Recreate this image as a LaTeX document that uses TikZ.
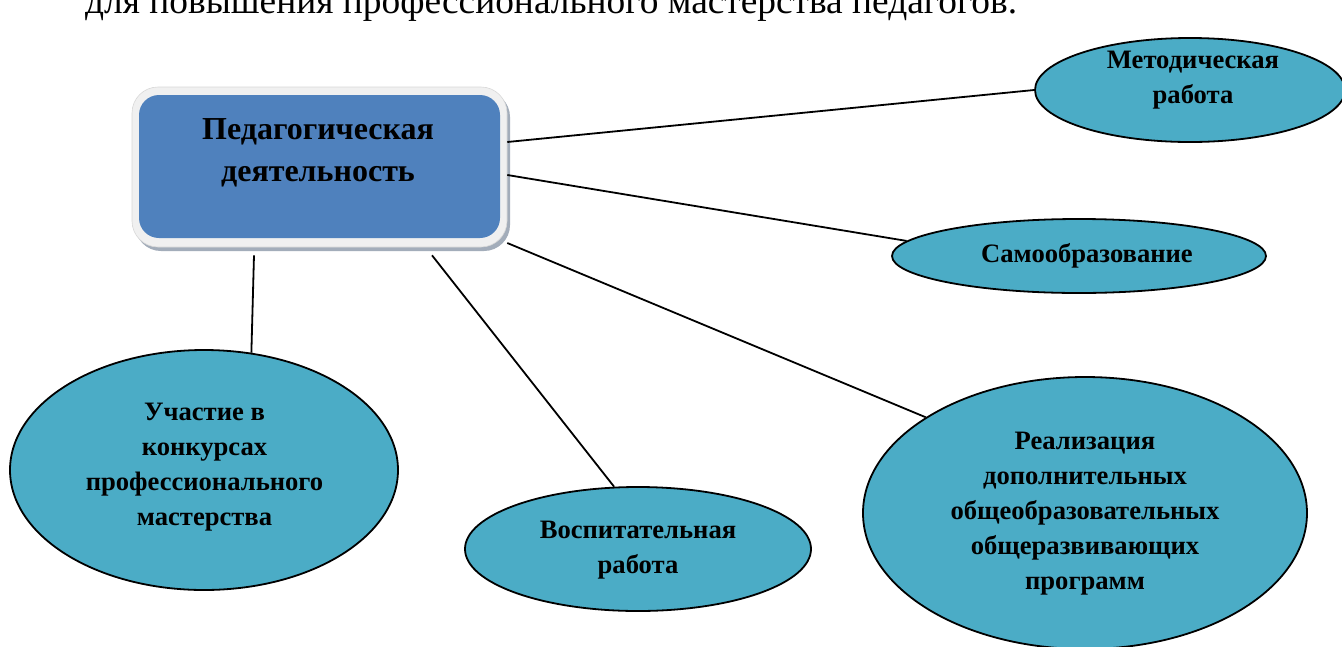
\documentclass[tikz,border=0pt]{standalone}
\usepackage{fontspec}
\setmainfont{Liberation Serif}
\usetikzlibrary{shapes.geometric,shadows}
\definecolor{boxblue}{HTML}{4F81BD}
\definecolor{aqua}{HTML}{4BACC6}
\definecolor{ring}{HTML}{F0F0F0}
\definecolor{ringedge}{HTML}{D8D8D8}
\definecolor{shade}{HTML}{A3ADBA}
\begin{document}
\begin{tikzpicture}[x=1pt,y=-1pt,
  ell/.style={ellipse, draw=black, line width=1.8pt, fill=aqua, inner sep=0pt},
  lbl/.style={align=center, font=\fontsize{26.6}{35}\selectfont\bfseries, inner sep=0pt},
  conn/.style={line width=1.8pt, draw=black},
  ringbox/.style={rectangle, rounded corners=26pt, fill=ring, draw=ringedge, line width=0.6pt,
    general shadow={fill=shade, shadow xshift=3pt, shadow yshift=-4pt}},
  bluebox/.style={rectangle, rounded corners=20pt, fill=boxblue, inner sep=0pt}]
\clip (0,0) rectangle (1342,646);
\useasboundingbox (0,0) rectangle (1342,646);
\fill[white] (0,0) rectangle (1342,646);

\node[anchor=base west, inner sep=0pt, font=\fontsize{37.4}{40}\selectfont] (title) at (85,13)
  {для повышения профессионального мастерства педагогов.};

% central block
\node[ringbox, minimum width=375pt, minimum height=160pt] (main) at (319.5,167) {};
\node[bluebox, minimum width=361pt, minimum height=143pt] (inner) at (319.5,166.5) {};
\node[align=center, inner sep=0pt, font=\fontsize{32}{42}\selectfont\bfseries] (maint) at (318,153)
  {Педагогическая\\деятельность};

% ellipses
\node[ell, minimum width=310pt, minimum height=104pt] (met) at (1190,90) {};
\node[lbl] (mett) at (1193,80) {Методическая\\работа};

\node[ell, minimum width=374pt, minimum height=74pt] (self) at (1079,256) {};
\node[lbl] (selft) at (1087,256) {Самообразование};

\node[ell, minimum width=444pt, minimum height=272pt] (real) at (1085,513) {};
\node[lbl] (realt) at (1085,514) {Реализация\\дополнительных\\общеобразовательных\\общеразвивающих\\программ};

\node[ell, minimum width=346pt, minimum height=124pt] (vosp) at (638,549) {};
\node[lbl] (vospt) at (638,550.5) {Воспитательная\\работа};

\node[ell, minimum width=388pt, minimum height=240pt] (uch) at (204,470) {};
\node[lbl] (ucht) at (204.5,467.5) {Участие в\\конкурсах\\профессионального\\мастерства};

% connectors
\draw[conn] ([yshift=25pt]main.east) -- (met.west);
\draw[conn] ([yshift=-8pt]main.east) -- (self.175);
\draw[conn] ([yshift=-76pt]main.east) -- (real.149);
\draw[conn] ([xshift=112.5pt,yshift=-8pt]main.south) -- (vosp.111);
\draw[conn] ([xshift=-65.5pt,yshift=-8pt]main.south) -- (uch.68);
\end{tikzpicture}
\end{document}
